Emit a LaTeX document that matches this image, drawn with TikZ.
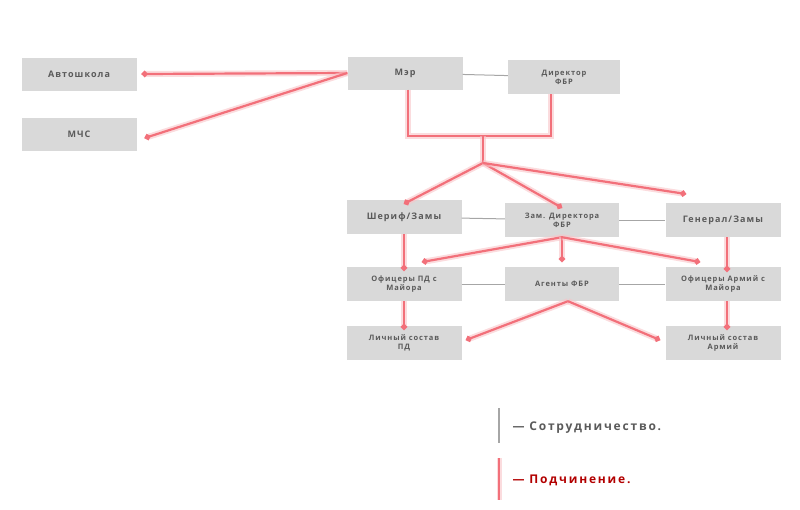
\documentclass[tikz,border=0pt]{standalone}
\usepackage{fontspec}
\setmainfont{Open Sans}
\newfontfamily\lbl[LetterSpace=12]{Open Sans Bold}
\newfontfamily\lgd[LetterSpace=15]{Open Sans Bold}
\usetikzlibrary{arrows.meta}
\definecolor{boxg}{HTML}{D9D9D9}
\definecolor{txtg}{HTML}{5A5A5A}
\definecolor{redl}{HTML}{F2707A}
\definecolor{glow}{HTML}{F9C4C8}
\tikzset{
 box/.style={fill=boxg,minimum width=115pt,minimum height=33pt,inner sep=1pt,align=center,text=txtg,font=\lbl\fontsize{9}{10}\selectfont},
 sbox/.style={box,font=\lbl\fontsize{7.5}{9}\selectfont},
 coop/.style={draw=gray!70,line width=1pt},
 sub/.style={draw=redl,line width=2.2pt,preaction={draw=glow,line width=6pt,opacity=0.6}},
 subd/.style={sub,-{Circle[length=6pt,width=6pt]}},
}
\begin{document}
\begin{tikzpicture}[x=1pt,y=-1pt]
\useasboundingbox (0,0) rectangle (800,509);
\node[box] (avto) at (79,74) {Автошкола};
\node[box] (mchs) at (79,134) {МЧС};
\node[box] (mer) at (405,73) {Мэр};
\node[sbox,minimum width=112pt,minimum height=34pt] (dir) at (564,77) {Директор\\ФБР};
\node[box,minimum height=34pt] (sher) at (404,217) {Шериф/Замы};
\node[sbox,minimum width=114pt,minimum height=34pt] (zam) at (562,220) {Зам. Директора\\ФБР};
\node[box,minimum height=34pt] (gen) at (723,220) {Генерал/Замы};
\node[sbox,minimum height=34pt] (ofpd) at (404,284) {Офицеры ПД с\\Майора};
\node[sbox,minimum width=114pt,minimum height=34pt] (agent) at (562,284) {Агенты ФБР};
\node[sbox,minimum height=34pt] (ofarm) at (723,284) {Офицеры Армий с\\Майора};
\node[sbox,minimum height=34pt] (lpd) at (404,343) {Личный состав\\ПД};
\node[sbox,minimum height=34pt] (larm) at (723,343) {Личный состав\\Армий};
% cooperation
\draw[coop] (mer) -- (dir);
\draw[coop] (sher) -- (zam);
\draw[coop] (zam) -- (gen);
\draw[coop] (ofpd) -- (agent);
\draw[coop] (agent) -- (ofarm);
% subordination
\coordinate (mo) at (mer.west);
\coordinate (j1) at (408,136);
\coordinate (j2) at (551,136);
\coordinate (jc) at (483,136);
\coordinate (jd) at (483,163);
\draw[subd] (mo) -- ([xshift=5pt]avto.east);
\draw[subd] (mo) -- ([xshift=8pt,yshift=-4pt]mchs.east);
\draw[sub] (mer.south-|j1) -- (j1) -- (j2) -- (dir.south-|j2);
\draw[sub] (jc) -- (jd);
\draw[subd] (jd) -- ([yshift=-4pt]sher.north);
\draw[subd] (jd) -- ([yshift=-5pt]zam.north);
\draw[subd] (jd) -- (686,194);
\draw[subd] (sher.south) -- ([yshift=-4pt]ofpd.north);
\coordinate (zb) at (zam.south);
\draw[subd] (zb) -- (422,262);
\draw[subd] (zb) -- (562,262);
\draw[subd] (zb) -- (700,262);
\draw[subd] ([xshift=4pt]gen.south) -- ([xshift=4pt,yshift=-5pt]ofarm.north);
\draw[subd] (ofpd.south) -- ([yshift=-4pt]lpd.north);
\coordinate (ab) at ([xshift=6pt]agent.south);
\draw[subd] (ab) -- (466,340);
\draw[subd] (ab) -- (660,340);
\draw[subd] ([xshift=4pt]ofarm.south) -- ([xshift=4pt,yshift=-4pt]larm.north);
% legend
\coordinate (g1) at (499,408); \coordinate (g2) at (499,443);
\coordinate (r1) at (499,458); \coordinate (r2) at (499,500);
\draw[draw=gray!70,line width=2pt] (g1) -- (g2);
\draw[draw=redl,line width=2pt,preaction={draw=glow,line width=5pt,opacity=0.6}] (r1) -- (r2);
\node[anchor=west,text=txtg,font=\lgd\fontsize{12}{14}\selectfont] (lg1) at (509,428) {— Сотрудничество.};
\node[anchor=west,text=red!70!black,font=\lgd\fontsize{12}{14}\selectfont] (lg2) at (509,480) {— Подчинение.};
\end{tikzpicture}
\end{document}
